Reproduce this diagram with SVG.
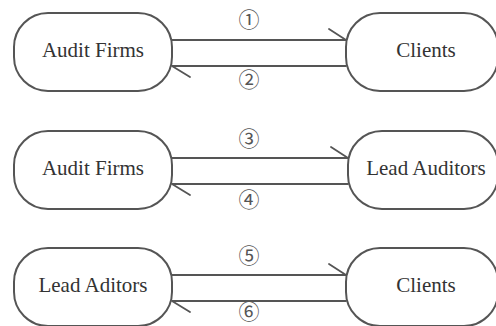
<svg xmlns="http://www.w3.org/2000/svg" width="496" height="326" viewBox="0 0 496 326">
<style>
.node{fill:#fff;stroke:#555;stroke-width:2}
.lbl{font-family:"Liberation Serif","Times New Roman",serif;font-size:21px;fill:#333;text-anchor:middle}
.num{font-family:"Noto Sans CJK SC","DejaVu Sans",sans-serif;font-size:21px;fill:#555;text-anchor:middle}
.ln{fill:none;stroke:#555;stroke-width:1.8;stroke-linecap:round}
</style>
<rect width="496" height="326" fill="#fff"/>
<g id="n1"><rect class="node" x="14" y="13" width="158" height="78" rx="34"/><text class="lbl" x="93" y="57">Audit Firms</text></g>
<g id="n2"><rect class="node" x="346" y="13" width="152" height="78" rx="34"/><text class="lbl" x="426" y="57">Clients</text></g>
<g id="n3"><rect class="node" x="14" y="131" width="158" height="78" rx="34"/><text class="lbl" x="93" y="175">Audit Firms</text></g>
<g id="n4"><rect class="node" x="348" y="131" width="150" height="78" rx="34"/><text class="lbl" x="426" y="175">Lead Auditors</text></g>
<g id="n5"><rect class="node" x="14" y="248" width="158" height="78" rx="34"/><text class="lbl" x="93" y="292">Lead Aditors</text></g>
<g id="n6"><rect class="node" x="346" y="248" width="152" height="78" rx="34"/><text class="lbl" x="426" y="292">Clients</text></g>
<g id="connectors">
<path class="ln" d="M172 40H346M329 29L346 40"/>
<path class="ln" d="M346 66H172M190 77L172 66"/>
<path class="ln" d="M172 158H348M331 147L348 158"/>
<path class="ln" d="M348 184H172M190 195L172 184"/>
<path class="ln" d="M172 275H346M329 264L346 275"/>
<path class="ln" d="M346 301H172M190 312L172 301"/>
<text class="num" x="249" y="27">①</text>
<text class="num" x="249" y="87">②</text>
<text class="num" x="249" y="146">③</text>
<text class="num" x="249" y="207">④</text>
<text class="num" x="249" y="263">⑤</text>
<text class="num" x="249" y="319">⑥</text>
</g>
</svg>
